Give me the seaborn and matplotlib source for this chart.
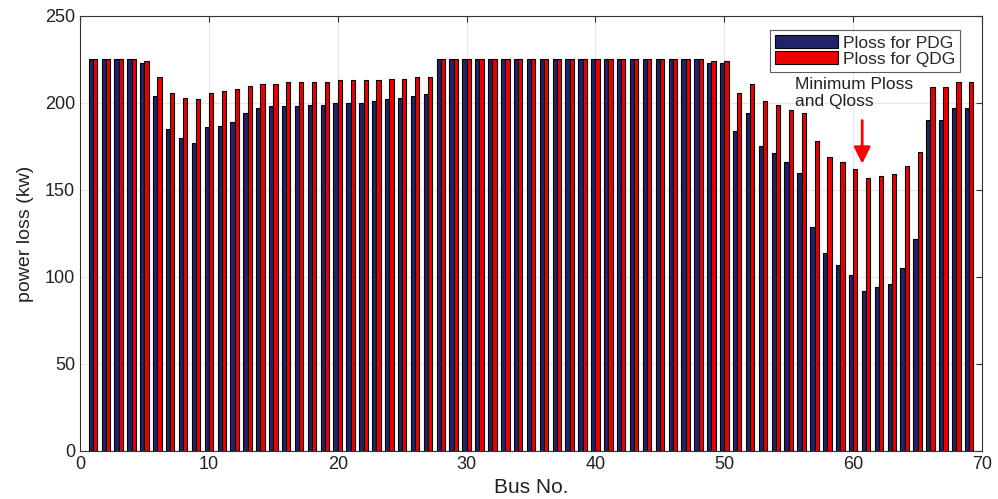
import numpy as np
import pandas as pd
import matplotlib
matplotlib.use("Agg")
import matplotlib.pyplot as plt
import seaborn as sns

buses = list(range(1, 70))
ploss_pdg = [225, 225, 225, 225, 223, 204, 185, 180, 177, 186,
             187, 189, 194, 197, 198, 198, 198, 199, 199, 200,
             200, 200, 201, 202, 203, 204, 205, 225, 225, 225,
             225, 225, 225, 225, 225, 225, 225, 225, 225, 225,
             225, 225, 225, 225, 225, 225, 225, 225, 223, 223,
             184, 194, 175, 171, 166, 160, 129, 114, 107, 101,
             92, 94, 96, 105, 122, 190, 190, 197, 197]
ploss_qdg = [225, 225, 225, 225, 224, 215, 206, 203, 202, 206,
             207, 208, 210, 211, 211, 212, 212, 212, 212, 213,
             213, 213, 213, 214, 214, 215, 215, 225, 225, 225,
             225, 225, 225, 225, 225, 225, 225, 225, 225, 225,
             225, 225, 225, 225, 225, 225, 225, 225, 224, 224,
             206, 211, 201, 199, 196, 194, 178, 169, 166, 162,
             157, 158, 159, 164, 172, 209, 209, 212, 212]
series_names = ["Ploss for PDG", "Ploss for QDG"]

df = pd.DataFrame({
    "bus": buses * 2,
    "loss": ploss_pdg + ploss_qdg,
    "series": [series_names[0]] * len(buses) + [series_names[1]] * len(buses),
})

sns.set_style("white")
plt.rcParams["font.family"] = ["Liberation Sans", "DejaVu Sans"]

fig = plt.figure(figsize=(9.98, 4.99), dpi=100)
ax = fig.add_axes([0.0802, 0.0962, 0.9038, 0.8718])

sns.barplot(data=df, x="bus", y="loss", hue="series", native_scale=True,
            palette=["#22226a", "#ee0000"], width=0.66, edgecolor="black",
            linewidth=0.8, ax=ax, errorbar=None, saturation=1)

ax.set_xlim(0, 70)
ax.set_ylim(0, 250)
ax.set_xticks(range(0, 71, 10))
ax.set_yticks(range(0, 251, 50))
ax.grid(True, color="#e6e6e6", linewidth=0.8)
ax.set_axisbelow(True)
for s in ax.spines.values():
    s.set_color("#333333")
    s.set_linewidth(0.8)
ax.tick_params(direction="in", length=4, top=True, right=True, labelsize=13,
               color="#333333", labelcolor="#222222")
ax.set_xlabel("Bus No.", fontsize=15, color="#222222", labelpad=4)
ax.set_ylabel("power loss (kw)", fontsize=14, color="#222222", labelpad=8)

leg = ax.legend(loc="upper right", bbox_to_anchor=(0.976, 0.968), borderaxespad=0,
                fontsize=12.5, frameon=True, fancybox=False, edgecolor="#333333",
                handlelength=3.6, handleheight=0.75, borderpad=0.3,
                labelspacing=0.05, handletextpad=0.3)
leg.get_frame().set_linewidth(0.8)

ax.text(55.5, 205.7, "Minimum Ploss\nand Qloss", fontsize=12.5, color="#222222",
        ha="left", va="center", linespacing=1.15)
ax.annotate("", xy=(60.7, 163.5), xytext=(60.7, 191.5),
            arrowprops=dict(arrowstyle="-|>,head_width=0.5,head_length=1.0",
                            color="red", lw=2))

fig.savefig("out.png", dpi=100)
